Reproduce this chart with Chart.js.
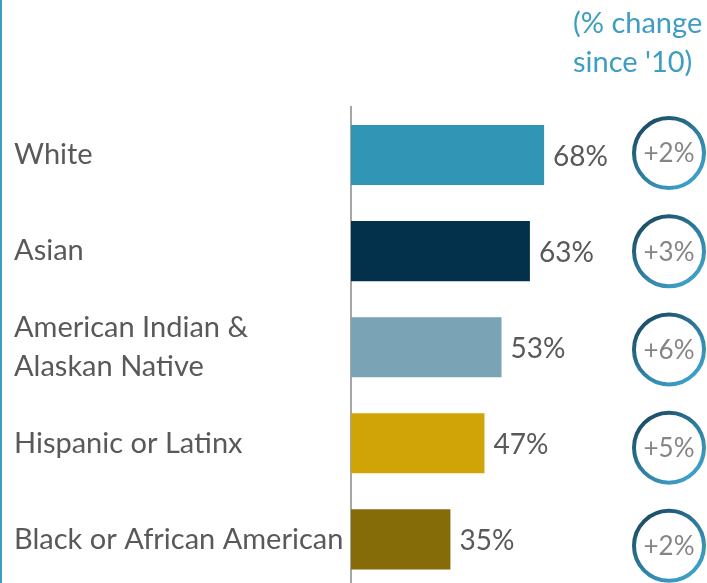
<!DOCTYPE html>
<html>
<head>
<meta charset="utf-8">
<script src="https://cdn.jsdelivr.net/npm/chart.js@4/dist/chart.umd.min.js"></script>
<style>
  html, body { margin: 0; padding: 0; background: #fff; overflow: hidden; }
  #wrap { width: 707px; height: 607px; position: relative; }
</style>
</head>
<body>
<div id="wrap"><canvas id="chart_instance"></canvas></div>
<script>
var categories = ["White", "Asian", ["American Indian &", "Alaskan Native"], "Hispanic or Latinx", "Black or African American"];
var shares = [68, 63, 53, 47, 35];
var changes = [2, 3, 6, 5, 2];
var barColors = ["#3195b6", "#03304a", "#7aa3b5", "#d0a406", "#866c08"];
var headerLines = ["(% change", "since '10)"];

var FONT = "Lato, 'Open Sans', sans-serif";
var chart_instance;

var extrasPlugin = {
    id: "extras",
    afterDraw: function (chart) {
        var ctx = chart.ctx;
        var meta = chart.getDatasetMeta(0);
        var firstY = meta.data[0].y;
        ctx.save();

        // left edge line
        ctx.fillStyle = "#3a9ec6";
        ctx.fillRect(0, 0, 2, chart.height);

        // header
        ctx.fillStyle = "#3d9dc3";
        ctx.font = "29px " + FONT;
        ctx.textAlign = "left";
        ctx.textBaseline = "middle";
        ctx.fillText(headerLines[0], 573, 24);
        ctx.fillText(headerLines[1], 573, 63);

        meta.data.forEach(function (bar, i) {
            // value label
            ctx.fillStyle = "#595959";
            ctx.font = "28px " + FONT;
            ctx.textAlign = "left";
            ctx.textBaseline = "middle";
            ctx.fillText(shares[i] + "%", bar.x + 9, bar.y + 2);

            // change circle (column drifts slightly downward vs. bars)
            var cx = 669, cy = bar.y - 2 + (bar.y - firstY) * 0.022, r = 35;
            var g = ctx.createLinearGradient(cx - r, cy - r, cx + r * 0.6, cy + r);
            g.addColorStop(0, "#163f57");
            g.addColorStop(0.5, "#2b7898");
            g.addColorStop(1, "#40a3cd");
            ctx.beginPath();
            ctx.arc(cx, cy, r, 0, Math.PI * 2);
            ctx.fillStyle = "#fff";
            ctx.fill();
            ctx.lineWidth = 4;
            ctx.strokeStyle = g;
            ctx.stroke();

            ctx.fillStyle = "#858585";
            ctx.font = "26px " + FONT;
            ctx.textAlign = "center";
            ctx.fillText("+" + changes[i] + "%", cx, cy + 1);
        });
        ctx.restore();
    }
};

function onloadchart() {
    var canvas = document.getElementById("chart_instance").getContext("2d");
    chart_instance = new Chart(canvas, {
        type: "bar",
        data: {
            labels: categories,
            datasets: [{
                data: shares,
                backgroundColor: barColors,
                borderWidth: 0,
                categoryPercentage: 1.0,
                barPercentage: 0.625
            }]
        },
        options: {
            indexAxis: "y",
            responsive: true,
            maintainAspectRatio: false,
            animation: false,
            layout: {
                padding: { left: 14, right: 72, top: 107, bottom: 1 }
            },
            plugins: {
                legend: { display: false },
                tooltip: { enabled: false }
            },
            scales: {
                x: {
                    min: 0,
                    max: 100,
                    display: false
                },
                y: {
                    grid: { display: false, drawTicks: false },
                    border: { display: true, color: "#a6a6a6", width: 2 },
                    afterFit: function (scale) { scale.width = 337; },
                    ticks: {
                        crossAlign: "far",
                        padding: 0,
                        color: "#595959",
                        font: { family: FONT, size: 29, lineHeight: 1.35 }
                    }
                }
            }
        },
        plugins: [extrasPlugin]
    });
}
window.onload = onloadchart;
</script>
</body>
</html>
